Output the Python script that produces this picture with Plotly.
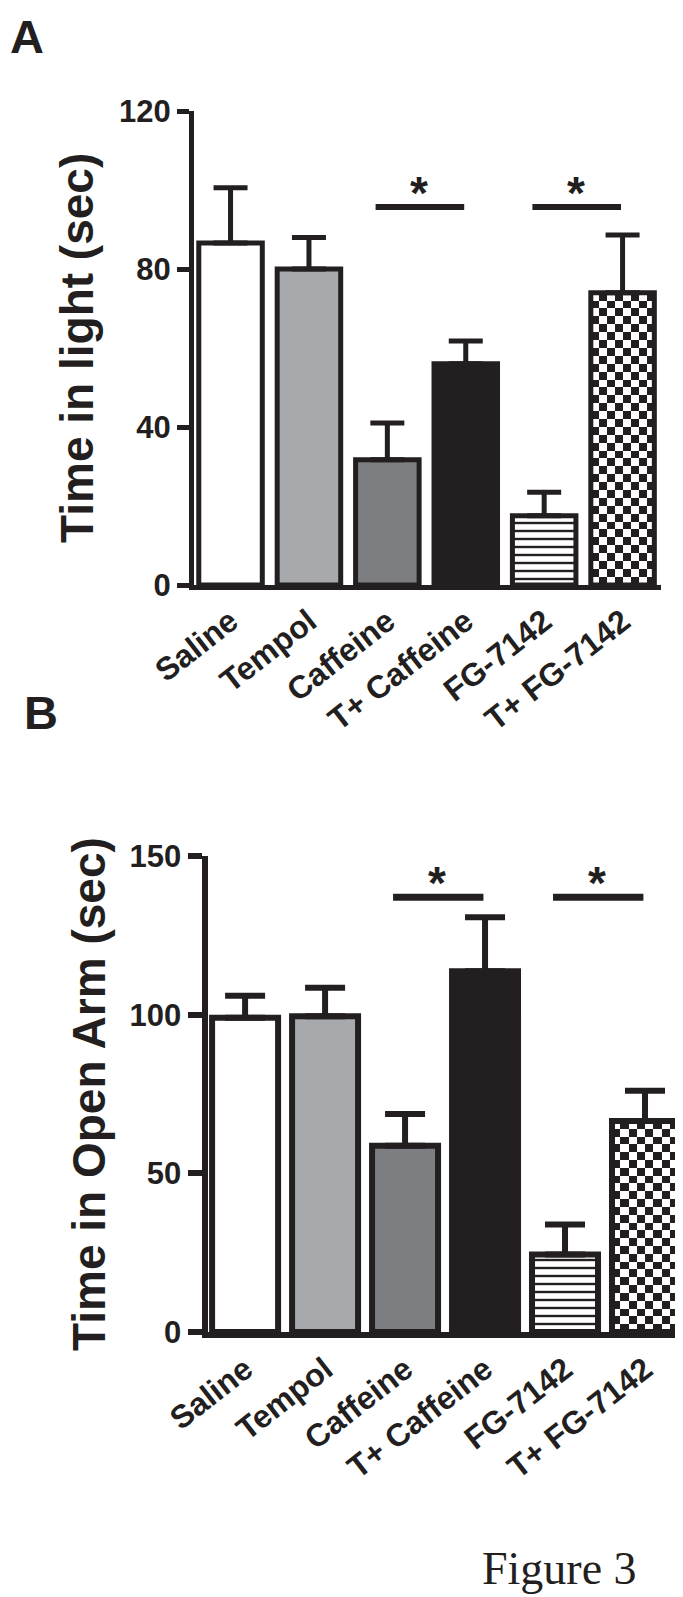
import numpy as np
import plotly.graph_objects as go

# data (means and upper SEM)
GROUPS = ["Saline", "Tempol", "Caffeine", "T+ Caffeine", "FG-7142", "T+ FG-7142"]
LIGHT_MEAN = [86.6, 80.0, 31.7, 56.0, 17.5, 74.0]
LIGHT_SEM = [14.0, 8.0, 9.3, 5.8, 6.0, 14.6]
OPEN_MEAN = [99.0, 99.5, 58.7, 113.7, 24.4, 66.5]
OPEN_SEM = [7.0, 9.0, 10.0, 17.0, 9.5, 9.5]
SIG_PAIRS = [(2, 3), (4, 5)]
LIGHT_SIG_Y = 95.7
OPEN_SIG_Y = 137.0
LIGHT_TICKS = [0, 40, 80, 120]
OPEN_TICKS = [0, 50, 100, 150]

INK = "#231f20"
FONT = "Liberation Sans, Arial, sans-serif"
FILLS = ["white", "#a7a9ac", "#7d7e82", INK, "white", "rgba(0,0,0,0)"]
SHAPES = ["", "", "", "", "-", ""]
W, H = 683, 1597


def px_x(v):
    return v / W


def px_y(v):
    return 1 - v / H


def add_panel(fig, n, means, sems, sig_y, cell_h, bar_w, lw, cap):
    xa = "x" if n == 1 else f"x{n}"
    ya = "y" if n == 1 else f"y{n}"

    # checkerboard fill for T+ FG-7142 (plotly has no checker pattern)
    i = 5
    nx = 8
    ny = int(round(means[i] / cell_h))
    xe = np.linspace(i - bar_w / 2, i + bar_w / 2, nx + 1)
    ye = np.linspace(0, means[i], ny + 1)
    z = [[(r + c) % 2 for c in range(nx)] for r in range(ny)]
    fig.add_trace(go.Heatmap(
        x=xe, y=ye, z=z, xaxis=xa, yaxis=ya,
        colorscale=[[0, "white"], [1, INK]], showscale=False,
        zsmooth=False, hoverinfo="skip",
    ))

    for k in range(len(GROUPS)):
        pattern = dict(shape="")
        if SHAPES[k]:
            pattern = dict(shape=SHAPES[k], fgcolor=INK, bgcolor="white",
                           size=8, solidity=0.3, fillmode="replace")
        fig.add_trace(go.Bar(
            x=[k], y=[means[k]], width=bar_w, xaxis=xa, yaxis=ya,
            marker=dict(color=FILLS[k], line=dict(color=INK, width=lw),
                        pattern=pattern),
            error_y=dict(type="data", array=[sems[k]], arrayminus=[0],
                         symmetric=False, color=INK, thickness=lw, width=cap),
            name=GROUPS[k], showlegend=False,
        ))

    for a, b in SIG_PAIRS:
        fig.add_trace(go.Scatter(
            x=[a - 0.15, b - 0.02], y=[sig_y, sig_y], xaxis=xa, yaxis=ya,
            mode="lines", line=dict(color=INK, width=lw + 1), showlegend=False,
        ))
        fig.add_annotation(
            x=(a + b) / 2 - 0.1, y=sig_y, xref=xa, yref=ya, text="*",
            showarrow=False, yshift=14,
            font=dict(family=FONT, size=46, color=INK, weight="bold"),
        )


fig = go.Figure()
add_panel(fig, 1, LIGHT_MEAN, LIGHT_SEM, LIGHT_SIG_Y, 2.0, 0.81, 5, 17)
add_panel(fig, 2, OPEN_MEAN, OPEN_SEM, OPEN_SIG_Y, 2.5, 0.825, 6, 20)


def xaxis_style(lw):
    return dict(
        tickvals=list(range(6)), ticktext=GROUPS, tickangle=-38,
        showline=True, linewidth=lw, linecolor=INK, ticks="",
        showgrid=False, zeroline=False, fixedrange=True, automargin=False,
        tickfont=dict(family=FONT, size=32, color=INK, weight="bold"),
    )


def yaxis_style(lw, tl):
    return dict(
        showline=True, linewidth=lw, linecolor=INK, ticks="outside",
        ticklen=tl, tickwidth=lw, tickcolor=INK, showgrid=False,
        zeroline=False, fixedrange=True, automargin=False,
        tickfont=dict(family=FONT, size=31, color=INK, weight="bold"),
    )


fig.update_layout(
    width=W, height=H,
    margin=dict(l=0, r=0, t=0, b=0, autoexpand=False),
    paper_bgcolor="white", plot_bgcolor="white", showlegend=False,
    barmode="overlay",
    xaxis=dict(domain=[px_x(186), px_x(653)], anchor="y",
               range=[-0.466, 5.49], **xaxis_style(5)),
    yaxis=dict(domain=[px_y(577), px_y(103)], anchor="x",
               range=[0, 120], tickvals=LIGHT_TICKS, **yaxis_style(5, 12)),
    xaxis2=dict(domain=[px_x(199.5), px_x(675)], anchor="y2",
                range=[-0.47, 5.475], **xaxis_style(6)),
    yaxis2=dict(domain=[px_y(1324), px_y(848)], anchor="x2",
                range=[0, 150], tickvals=OPEN_TICKS, **yaxis_style(6, 14)),
)

title_font = dict(family=FONT, size=46, color=INK, weight="bold")
fig.add_annotation(x=px_x(69), y=px_y(340), xref="paper", yref="paper",
                   text="Time in light (sec)", textangle=-90, showarrow=False,
                   xanchor="center", yanchor="middle", font=title_font)
fig.add_annotation(x=px_x(81), y=px_y(1086), xref="paper", yref="paper",
                   text="Time in Open Arm (sec)", textangle=-90, showarrow=False,
                   xanchor="center", yanchor="middle", font=title_font)

panel_font = dict(family=FONT, size=47, color=INK, weight="bold")
fig.add_annotation(x=px_x(0), y=px_y(0), xref="paper", yref="paper",
                   text="A", showarrow=False, xanchor="left", yanchor="top",
                   font=panel_font)
fig.add_annotation(x=px_x(14), y=px_y(676), xref="paper", yref="paper",
                   text="B", showarrow=False, xanchor="left", yanchor="top",
                   font=panel_font)
fig.add_annotation(x=px_x(551), y=px_y(1588), xref="paper", yref="paper",
                   text="Figure 3", showarrow=False, xanchor="center",
                   yanchor="bottom",
                   font=dict(family="Liberation Serif, Times New Roman, serif",
                             size=46, color=INK))

fig.write_html("out.html")
